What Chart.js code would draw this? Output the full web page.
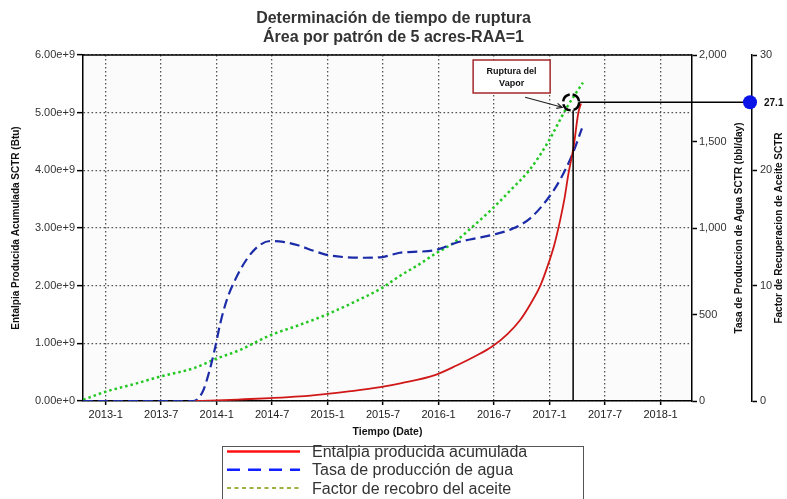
<!DOCTYPE html>
<html>
<head>
<meta charset="utf-8">
<script src="https://cdn.jsdelivr.net/npm/chart.js@4.4.1/dist/chart.umd.min.js"></script>
<style>
  html, body { margin: 0; padding: 0; background: #fff; }
</style>
</head>
<body>
<canvas id="chart" width="787" height="499"></canvas>
<script>
const FONT = '"Liberation Sans", Arial, sans-serif';

// x values are months counted from 2013-1
const tickMonths = [0, 6, 12, 18, 24, 30, 36, 42, 48, 54, 60];
const tickLabels = ['2013-1', '2013-7', '2014-1', '2014-7', '2015-1', '2015-7', '2016-1', '2016-7', '2017-1', '2017-7', '2018-1'];

// Entalpia producida acumulada (x 1e9 Btu)
const enthalpyMonths = [9.7, 12, 15, 17.8, 21, 23.7, 26.5, 29.7, 32, 35.6, 38, 40, 41.75, 43.5, 44.8, 46, 47, 47.7, 48.5, 49.15, 49.6, 50.05, 50.6, 51.1, 51.4];
const enthalpyE9 = [0, 0.01, 0.03, 0.05, 0.08, 0.12, 0.17, 0.24, 0.31, 0.45, 0.62, 0.78, 0.94, 1.17, 1.40, 1.70, 2.0, 2.30, 2.70, 3.14, 3.50, 3.95, 4.41, 4.99, 5.16];

// Tasa de producción de agua (bbl/day)
const waterMonths = [-2.45, 9.5, 10.5, 11.2, 11.8, 12.4, 13.1, 14.0, 15.2, 16.5, 17.8, 19.2, 20.8, 22.5, 23.9, 25.7, 28.0, 29.9, 31.8, 33.3, 35.6, 37.9, 40.0, 41.8, 44.1, 45.9, 47.7, 49.1, 50.5, 51.5];
const waterRate = [0, 0, 55, 170, 300, 450, 585, 700, 815, 895, 925, 920, 900, 868, 845, 832, 828, 832, 857, 862, 872, 915, 940, 960, 998, 1056, 1162, 1275, 1430, 1576];

// Factor de recobro del aceite
const recoveryMonths = [-2.42, 0, 3, 5.8, 9.5, 11.8, 14.5, 17.85, 20.8, 23.8, 26.8, 29.8, 31.8, 33.8, 35.7, 37.6, 39.8, 41.85, 43.8, 45.8, 47.8, 49.9, 51.6];
const recoveryFactor = [0.1, 0.81, 1.45, 2.1, 2.84, 3.62, 4.42, 5.72, 6.55, 7.46, 8.55, 9.77, 10.84, 11.8, 12.8, 13.7, 15.2, 16.7, 18.3, 20.0, 22.4, 25.5, 27.6];

// punto de ruptura del vapor
const breakMonth = 50.33;
const breakEnthalpyE9 = 5.18;
const breakRecoveryLabel = '27.1';

const titleLines = ['Determinación de tiempo de ruptura', 'Área por patrón de 5 acres-RAA=1'];
const leftTitle = 'Entalpia Producida Acumulada SCTR (Btu)';
const rightTitle1 = 'Tasa de Produccion de Agua SCTR (bbl/day)';
const rightTitle2 = 'Factor de Recuperacion de Aceite SCTR';

const zip = (xs, ys, k = 1) => xs.map((x, i) => ({ x: x, y: ys[i] * k }));

const overlay = {
  id: 'overlay',
  beforeDraw(chart) {
    const { ctx, chartArea: a } = chart;
    ctx.save();
    ctx.fillStyle = '#fbfbfb';
    ctx.fillRect(a.left, a.top, a.right - a.left, a.bottom - a.top);
    ctx.restore();
  },
  beforeDatasetsDraw(chart) {
    const { ctx, chartArea: a } = chart;
    ctx.save();
    ctx.strokeStyle = '#000';
    ctx.lineWidth = 1.5;
    ctx.beginPath();
    ctx.moveTo(a.left, a.top);
    ctx.lineTo(a.right, a.top);
    ctx.stroke();
    ctx.restore();
  },
  afterDraw(chart) {
    const { ctx, chartArea: a, scales } = chart;
    const cx = scales.x.getPixelForValue(breakMonth);
    const cy = scales.y.getPixelForValue(breakEnthalpyE9 * 1e9);
    const axisX = scales.y2.left;

    ctx.save();
    // lineas guia
    ctx.strokeStyle = '#000';
    ctx.lineWidth = 1.5;
    ctx.beginPath();
    ctx.moveTo(cx + 2, cy + 8);
    ctx.lineTo(cx + 2, a.bottom);
    ctx.moveTo(cx + 8, cy);
    ctx.lineTo(axisX, cy);
    ctx.stroke();

    // circulo
    ctx.lineWidth = 2.5;
    ctx.setLineDash([10, 3]);
    ctx.beginPath();
    ctx.arc(cx, cy, 8, 0, Math.PI * 2);
    ctx.stroke();
    ctx.setLineDash([]);

    // punto azul y valor
    ctx.fillStyle = '#0a14e6';
    ctx.beginPath();
    ctx.arc(axisX - 2, cy, 7, 0, Math.PI * 2);
    ctx.fill();
    ctx.fillStyle = '#111';
    ctx.font = 'bold 10px ' + FONT;
    ctx.textBaseline = 'middle';
    ctx.textAlign = 'left';
    ctx.fillText(breakRecoveryLabel, axisX + 12, cy + 1);

    // caja
    const bx = cx - 98, by = a.top + 5, bw = 77, bh = 33;
    ctx.fillStyle = '#fff';
    ctx.fillRect(bx, by, bw, bh);
    ctx.strokeStyle = '#a3282b';
    ctx.lineWidth = 1.5;
    ctx.strokeRect(bx, by, bw, bh);
    ctx.fillStyle = '#111';
    ctx.textAlign = 'center';
    ctx.font = 'bold 9px ' + FONT;
    ctx.fillText('Ruptura del', bx + bw / 2, by + 11.5);
    ctx.fillText('Vapor', bx + bw / 2, by + 23.5);

    // flecha
    const x0 = cx - 46, y0 = cy - 5, x1 = cx - 9, y1 = cy + 5;
    const ang = Math.atan2(y1 - y0, x1 - x0);
    ctx.strokeStyle = '#222';
    ctx.lineWidth = 1.2;
    ctx.beginPath();
    ctx.moveTo(x0, y0);
    ctx.lineTo(x1, y1);
    ctx.moveTo(x1 - 6 * Math.cos(ang - 0.45), y1 - 6 * Math.sin(ang - 0.45));
    ctx.lineTo(x1, y1);
    ctx.lineTo(x1 - 6 * Math.cos(ang + 0.45), y1 - 6 * Math.sin(ang + 0.45));
    ctx.stroke();

    // titulos de ejes derechos
    const midY = (a.top + a.bottom) / 2;
    ctx.font = 'bold 10px ' + FONT;
    ctx.fillStyle = '#111';
    ctx.textAlign = 'center';
    ctx.save();
    ctx.translate(scales.y1.right - 13, midY);
    ctx.rotate(-Math.PI / 2);
    ctx.fillText(rightTitle1, 0, 0);
    ctx.restore();
    ctx.save();
    ctx.translate(scales.y2.left + 27, midY);
    ctx.rotate(-Math.PI / 2);
    ctx.fillText(rightTitle2, 0, 0);
    ctx.restore();

    // leyenda
    const lx = 222, ly = 446;
    ctx.strokeStyle = '#555';
    ctx.lineWidth = 1;
    ctx.strokeRect(lx + 0.5, ly + 0.5, 361, 70);
    ctx.font = '16px ' + FONT;
    ctx.textAlign = 'left';
    chart.data.datasets.forEach((ds, i) => {
      const y = ly + 5.5 + i * 18.3;
      ctx.strokeStyle = ds.legendColor;
      ctx.lineWidth = ds.legendWidth;
      ctx.setLineDash(ds.legendDash);
      ctx.beginPath();
      ctx.moveTo(lx + 5, y);
      ctx.lineTo(lx + 78, y);
      ctx.stroke();
      ctx.setLineDash([]);
      ctx.fillStyle = '#333';
      ctx.fillText(ds.label, lx + 90, y + 1);
    });
    ctx.restore();
  }
};

const tickFont = { family: FONT, size: 11 };
const gridDots = { color: '#555', lineWidth: 1.3, tickColor: '#000', tickWidth: 1.5, tickBorderDash: [] };

new Chart(document.getElementById('chart').getContext('2d'), {
  type: 'line',
  data: {
    datasets: [
      {
        label: 'Entalpia producida acumulada',
        data: zip(enthalpyMonths, enthalpyE9, 1e9),
        yAxisID: 'y',
        borderColor: '#d01818',
        borderWidth: 1.8,
        legendColor: '#ff1010', legendWidth: 2.5, legendDash: []
      },
      {
        label: 'Tasa de producción de agua',
        data: zip(waterMonths, waterRate),
        yAxisID: 'y1',
        borderColor: '#1c2ca8',
        borderWidth: 2.2,
        borderDash: [10, 5],
        legendColor: '#1020ff', legendWidth: 2.5, legendDash: [13, 8]
      },
      {
        label: 'Factor de recobro del aceite',
        data: zip(recoveryMonths, recoveryFactor),
        yAxisID: 'y2',
        borderColor: '#22c822',
        borderWidth: 2.5,
        borderDash: [2.5, 3],
        legendColor: '#7d9b00', legendWidth: 1.5, legendDash: [4, 3.5]
      }
    ]
  },
  options: {
    responsive: false,
    animation: false,
    elements: {
      point: { radius: 0 },
      line: { cubicInterpolationMode: 'monotone', fill: false }
    },
    layout: { padding: { top: 0, bottom: 58, left: 0, right: 0 } },
    plugins: {
      legend: { display: false },
      tooltip: { enabled: false },
      title: {
        display: true,
        text: titleLines,
        color: '#333',
        font: { family: FONT, size: 16, weight: 'bold', lineHeight: 1.2 },
        padding: { top: 8.5, bottom: 8.1 }
      }
    },
    scales: {
      x: {
        type: 'linear',
        min: -2.45,
        max: 63.4,
        afterBuildTicks: s => { s.ticks = tickMonths.map(v => ({ value: v })); },
        afterFit: s => { s.height = 40; },
        ticks: {
          callback: (v, i) => tickLabels[i],
          color: '#222', font: tickFont, padding: 3, maxRotation: 0, autoSkip: false
        },
        grid: { ...gridDots, tickLength: 4 },
        border: { display: true, color: '#000', width: 1.5, dash: [1.6, 2.4] },
        title: { display: true, text: 'Tiempo (Date)', color: '#111', font: { family: FONT, size: 10.5, weight: 'bold' }, padding: { top: 0, bottom: 2.4 } }
      },
      y: {
        position: 'left',
        min: 0,
        max: 6e9,
        afterFit: s => { s.width = 83; },
        ticks: { stepSize: 1e9, callback: v => v.toExponential(2), color: '#333', font: tickFont, padding: 2 },
        grid: { ...gridDots, tickLength: 6 },
        border: { display: true, color: '#000', width: 1.5, dash: [1.6, 2.4] },
        title: { display: true, text: leftTitle, color: '#111', font: { family: FONT, size: 10, weight: 'bold' }, padding: { top: 10, bottom: 0 } }
      },
      y1: {
        position: 'right',
        min: 0,
        max: 2000,
        afterFit: s => { s.width = 60; },
        ticks: { stepSize: 500, callback: v => v.toLocaleString('en-US'), color: '#333', font: tickFont, padding: 2 },
        grid: { drawOnChartArea: false, tickColor: '#000', tickLength: 5, tickWidth: 1.5 },
        border: { display: true, color: '#000', width: 1.5 }
      },
      y2: {
        position: 'right',
        min: 0,
        max: 30,
        afterFit: s => { s.width = 35; },
        ticks: { stepSize: 10, color: '#333', font: tickFont, padding: 3 },
        grid: { drawOnChartArea: false, tickColor: '#000', tickLength: 5, tickWidth: 1.5 },
        border: { display: true, color: '#000', width: 1.5 }
      }
    }
  },
  plugins: [overlay]
});
</script>
</body>
</html>
